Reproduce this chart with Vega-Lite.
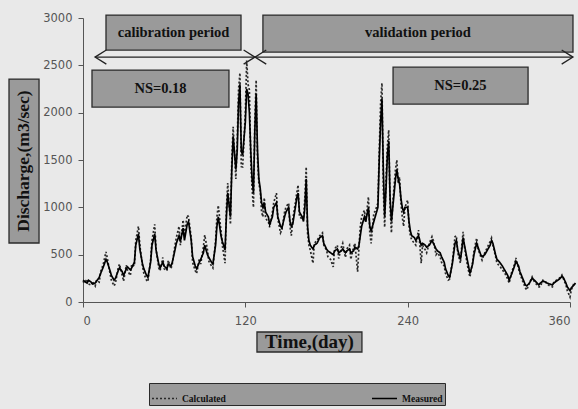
{
  "$schema": "https://vega.github.io/schema/vega-lite/v6.json",
  "width": 487,
  "height": 284,
  "autosize": {"type": "none"},
  "padding": {"left": 83, "top": 18, "right": 8, "bottom": 107},
  "background": "#e9e9e9",
  "config": {
    "view": {"stroke": null},
    "axis": {
      "grid": false,
      "domainColor": "#555",
      "tickColor": "#555",
      "tickSize": 5,
      "labelFont": "DejaVu Sans",
      "labelFontSize": 11.5,
      "labelColor": "#555",
      "title": null,
      "format": "d"
    }
  },
  "datasets": {
    "flow": [
      {"day":0,"Measured":230,"Calculated":220},{"day":1,"Measured":220,"Calculated":200},{"day":3,"Measured":200,"Calculated":240},{"day":4,"Measured":230,"Calculated":190},{"day":6,"Measured":210,"Calculated":180},{"day":7,"Measured":190,"Calculated":220},{"day":9,"Measured":200,"Calculated":170},{"day":10,"Measured":220,"Calculated":230},{"day":12,"Measured":260,"Calculated":210},{"day":13,"Measured":300,"Calculated":320},{"day":15,"Measured":370,"Calculated":400},{"day":17,"Measured":450,"Calculated":530},{"day":18,"Measured":420,"Calculated":460},{"day":20,"Measured":330,"Calculated":300},{"day":21,"Measured":280,"Calculated":230},{"day":23,"Measured":230,"Calculated":170},{"day":24,"Measured":250,"Calculated":200},{"day":26,"Measured":330,"Calculated":360},{"day":27,"Measured":360,"Calculated":400},{"day":29,"Measured":320,"Calculated":280},{"day":30,"Measured":280,"Calculated":220},{"day":32,"Measured":350,"Calculated":390},{"day":33,"Measured":370,"Calculated":330},{"day":35,"Measured":340,"Calculated":280},{"day":36,"Measured":360,"Calculated":400},{"day":38,"Measured":420,"Calculated":380},{"day":39,"Measured":600,"Calculated":650},{"day":41,"Measured":720,"Calculated":800},{"day":42,"Measured":560,"Calculated":600},{"day":44,"Measured":400,"Calculated":380},{"day":45,"Measured":350,"Calculated":300},{"day":47,"Measured":280,"Calculated":230},{"day":48,"Measured":260,"Calculated":215},{"day":50,"Measured":420,"Calculated":450},{"day":51,"Measured":600,"Calculated":650},{"day":53,"Measured":720,"Calculated":820},{"day":54,"Measured":550,"Calculated":560},{"day":56,"Measured":400,"Calculated":360},{"day":57,"Measured":360,"Calculated":330},{"day":59,"Measured":420,"Calculated":470},{"day":60,"Measured":380,"Calculated":350},{"day":62,"Measured":350,"Calculated":330},{"day":63,"Measured":400,"Calculated":440},{"day":65,"Measured":380,"Calculated":350},{"day":66,"Measured":420,"Calculated":400},{"day":68,"Measured":550,"Calculated":600},{"day":69,"Measured":620,"Calculated":680},{"day":71,"Measured":700,"Calculated":800},{"day":72,"Measured":640,"Calculated":600},{"day":74,"Measured":780,"Calculated":866},{"day":75,"Measured":650,"Calculated":700},{"day":77,"Measured":820,"Calculated":918},{"day":78,"Measured":850,"Calculated":900},{"day":80,"Measured":650,"Calculated":680},{"day":81,"Measured":480,"Calculated":420},{"day":83,"Measured":380,"Calculated":330},{"day":84,"Measured":350,"Calculated":300},{"day":86,"Measured":420,"Calculated":460},{"day":87,"Measured":450,"Calculated":400},{"day":89,"Measured":520,"Calculated":580},{"day":90,"Measured":600,"Calculated":707},{"day":92,"Measured":500,"Calculated":550},{"day":93,"Measured":470,"Calculated":430},{"day":95,"Measured":420,"Calculated":380},{"day":96,"Measured":400,"Calculated":360},{"day":98,"Measured":600,"Calculated":650},{"day":99,"Measured":800,"Calculated":900},{"day":100,"Measured":900,"Calculated":1020},{"day":102,"Measured":700,"Calculated":750},{"day":103,"Measured":640,"Calculated":600},{"day":105,"Measured":550,"Calculated":410},{"day":106,"Measured":900,"Calculated":1000},{"day":107,"Measured":1150,"Calculated":1256},{"day":109,"Measured":900,"Calculated":820},{"day":110,"Measured":1400,"Calculated":1500},{"day":111,"Measured":1750,"Calculated":1850},{"day":113,"Measured":1400,"Calculated":1300},{"day":114,"Measured":1600,"Calculated":1700},{"day":115,"Measured":2100,"Calculated":2250},{"day":116,"Measured":2300,"Calculated":2420},{"day":117,"Measured":1600,"Calculated":1430},{"day":118,"Measured":1550,"Calculated":1426},{"day":120,"Measured":1900,"Calculated":2000},{"day":121,"Measured":2250,"Calculated":2550},{"day":122,"Measured":2200,"Calculated":2300},{"day":123,"Measured":2000,"Calculated":2240},{"day":124,"Measured":1600,"Calculated":1500},{"day":125,"Measured":1300,"Calculated":1200},{"day":126,"Measured":1150,"Calculated":1000},{"day":127,"Measured":1800,"Calculated":1900},{"day":128,"Measured":2200,"Calculated":2344},{"day":129,"Measured":1600,"Calculated":1500},{"day":130,"Measured":1300,"Calculated":1250},{"day":131,"Measured":1200,"Calculated":1180},{"day":132,"Measured":1050,"Calculated":950},{"day":133,"Measured":1000,"Calculated":900},{"day":134,"Measured":1050,"Calculated":1100},{"day":135,"Measured":950,"Calculated":880},{"day":137,"Measured":900,"Calculated":850},{"day":138,"Measured":820,"Calculated":790},{"day":140,"Measured":900,"Calculated":950},{"day":141,"Measured":1000,"Calculated":1050},{"day":143,"Measured":1050,"Calculated":1150},{"day":144,"Measured":900,"Calculated":880},{"day":146,"Measured":800,"Calculated":730},{"day":147,"Measured":780,"Calculated":760},{"day":149,"Measured":900,"Calculated":950},{"day":150,"Measured":950,"Calculated":1000},{"day":152,"Measured":1000,"Calculated":1045},{"day":153,"Measured":850,"Calculated":800},{"day":154,"Measured":800,"Calculated":700},{"day":155,"Measured":820,"Calculated":866},{"day":157,"Measured":1000,"Calculated":1050},{"day":158,"Measured":1100,"Calculated":1150},{"day":159,"Measured":1150,"Calculated":1235},{"day":160,"Measured":950,"Calculated":900},{"day":162,"Measured":900,"Calculated":880},{"day":163,"Measured":850,"Calculated":897},{"day":164,"Measured":1000,"Calculated":1100},{"day":165,"Measured":1300,"Calculated":1426},{"day":166,"Measured":800,"Calculated":730},{"day":167,"Measured":650,"Calculated":600},{"day":168,"Measured":600,"Calculated":550},{"day":170,"Measured":560,"Calculated":410},{"day":171,"Measured":600,"Calculated":620},{"day":173,"Measured":620,"Calculated":650},{"day":175,"Measured":680,"Calculated":700},{"day":177,"Measured":700,"Calculated":730},{"day":178,"Measured":620,"Calculated":600},{"day":180,"Measured":560,"Calculated":550},{"day":181,"Measured":540,"Calculated":480},{"day":183,"Measured":520,"Calculated":450},{"day":185,"Measured":500,"Calculated":370},{"day":186,"Measured":540,"Calculated":560},{"day":188,"Measured":560,"Calculated":600},{"day":189,"Measured":520,"Calculated":460},{"day":191,"Measured":540,"Calculated":580},{"day":192,"Measured":560,"Calculated":620},{"day":194,"Measured":520,"Calculated":470},{"day":195,"Measured":540,"Calculated":560},{"day":197,"Measured":560,"Calculated":600},{"day":198,"Measured":520,"Calculated":450},{"day":200,"Measured":540,"Calculated":580},{"day":201,"Measured":580,"Calculated":620},{"day":203,"Measured":560,"Calculated":320},{"day":204,"Measured":600,"Calculated":580},{"day":205,"Measured":700,"Calculated":800},{"day":206,"Measured":800,"Calculated":900},{"day":208,"Measured":900,"Calculated":970},{"day":209,"Measured":850,"Calculated":850},{"day":211,"Measured":1000,"Calculated":1110},{"day":212,"Measured":800,"Calculated":730},{"day":213,"Measured":750,"Calculated":620},{"day":215,"Measured":850,"Calculated":940},{"day":216,"Measured":900,"Calculated":960},{"day":218,"Measured":1000,"Calculated":1045},{"day":219,"Measured":1500,"Calculated":1600},{"day":220,"Measured":1900,"Calculated":2100},{"day":221,"Measured":2150,"Calculated":2313},{"day":222,"Measured":1400,"Calculated":1200},{"day":223,"Measured":900,"Calculated":790},{"day":224,"Measured":1200,"Calculated":1300},{"day":225,"Measured":1550,"Calculated":1650},{"day":226,"Measured":1700,"Calculated":1816},{"day":227,"Measured":1100,"Calculated":1000},{"day":228,"Measured":850,"Calculated":730},{"day":229,"Measured":1000,"Calculated":1050},{"day":231,"Measured":1300,"Calculated":1400},{"day":232,"Measured":1400,"Calculated":1500},{"day":233,"Measured":1300,"Calculated":1250},{"day":234,"Measured":1250,"Calculated":1320},{"day":235,"Measured":1100,"Calculated":1050},{"day":236,"Measured":1000,"Calculated":900},{"day":237,"Measured":950,"Calculated":800},{"day":238,"Measured":1000,"Calculated":1000},{"day":240,"Measured":1000,"Calculated":1077},{"day":241,"Measured":850,"Calculated":800},{"day":242,"Measured":750,"Calculated":700},{"day":243,"Measured":700,"Calculated":655},{"day":245,"Measured":680,"Calculated":620},{"day":246,"Measured":650,"Calculated":600},{"day":248,"Measured":700,"Calculated":760},{"day":249,"Measured":650,"Calculated":600},{"day":250,"Measured":600,"Calculated":410},{"day":251,"Measured":620,"Calculated":600},{"day":253,"Measured":600,"Calculated":550},{"day":254,"Measured":580,"Calculated":520},{"day":256,"Measured":600,"Calculated":620},{"day":258,"Measured":650,"Calculated":690},{"day":259,"Measured":620,"Calculated":650},{"day":261,"Measured":560,"Calculated":500},{"day":262,"Measured":540,"Calculated":520},{"day":264,"Measured":520,"Calculated":480},{"day":265,"Measured":480,"Calculated":420},{"day":267,"Measured":420,"Calculated":380},{"day":268,"Measured":350,"Calculated":300},{"day":270,"Measured":280,"Calculated":232},{"day":271,"Measured":260,"Calculated":240},{"day":273,"Measured":400,"Calculated":420},{"day":275,"Measured":620,"Calculated":690},{"day":276,"Measured":650,"Calculated":700},{"day":277,"Measured":550,"Calculated":520},{"day":279,"Measured":450,"Calculated":410},{"day":280,"Measured":550,"Calculated":600},{"day":281,"Measured":680,"Calculated":740},{"day":282,"Measured":600,"Calculated":580},{"day":284,"Measured":450,"Calculated":400},{"day":285,"Measured":380,"Calculated":330},{"day":286,"Measured":300,"Calculated":264},{"day":288,"Measured":400,"Calculated":420},{"day":289,"Measured":500,"Calculated":540},{"day":291,"Measured":620,"Calculated":675},{"day":292,"Measured":580,"Calculated":560},{"day":294,"Measured":500,"Calculated":480},{"day":295,"Measured":480,"Calculated":443},{"day":297,"Measured":500,"Calculated":520},{"day":299,"Measured":550,"Calculated":580},{"day":301,"Measured":600,"Calculated":640},{"day":302,"Measured":650,"Calculated":675},{"day":303,"Measured":620,"Calculated":600},{"day":305,"Measured":500,"Calculated":480},{"day":306,"Measured":450,"Calculated":410},{"day":308,"Measured":420,"Calculated":380},{"day":310,"Measured":380,"Calculated":340},{"day":312,"Measured":330,"Calculated":300},{"day":314,"Measured":280,"Calculated":240},{"day":315,"Measured":230,"Calculated":200},{"day":317,"Measured":300,"Calculated":320},{"day":319,"Measured":380,"Calculated":400},{"day":320,"Measured":430,"Calculated":465},{"day":322,"Measured":380,"Calculated":350},{"day":323,"Measured":320,"Calculated":300},{"day":325,"Measured":250,"Calculated":220},{"day":327,"Measured":180,"Calculated":150},{"day":328,"Measured":170,"Calculated":127},{"day":330,"Measured":200,"Calculated":200},{"day":332,"Measured":250,"Calculated":264},{"day":333,"Measured":240,"Calculated":230},{"day":335,"Measured":210,"Calculated":190},{"day":337,"Measured":180,"Calculated":160},{"day":338,"Measured":200,"Calculated":160},{"day":340,"Measured":220,"Calculated":230},{"day":342,"Measured":210,"Calculated":211},{"day":343,"Measured":200,"Calculated":190},{"day":345,"Measured":190,"Calculated":170},{"day":347,"Measured":180,"Calculated":160},{"day":348,"Measured":200,"Calculated":210},{"day":350,"Measured":220,"Calculated":230},{"day":352,"Measured":240,"Calculated":250},{"day":354,"Measured":270,"Calculated":285},{"day":355,"Measured":260,"Calculated":250},{"day":357,"Measured":200,"Calculated":180},{"day":358,"Measured":160,"Calculated":120},{"day":360,"Measured":120,"Calculated":53},{"day":361,"Measured":150,"Calculated":130},{"day":363,"Measured":180,"Calculated":200},{"day":364,"Measured":200,"Calculated":190}
    ],
    "boxes": [
      {"name":"calibration","x1":17.0,"x2":116.8,"y1":2661,"y2":3031},
      {"name":"validation","x1":133.0,"x2":362.2,"y1":2640,"y2":3031},
      {"name":"ns1","x1":6.65,"x2":107.9,"y1":2059,"y2":2450},
      {"name":"ns2","x1":229.2,"x2":329.0,"y1":2091,"y2":2481},
      {"name":"xtitle","x1":128.6,"x2":206.2,"y1":-528,"y2":-317},
      {"name":"ytitle","x1":-54.7,"x2":-32.5,"y1":623,"y2":2355}
    ]
  },
  "layer": [
    {
      "data": {"name": "boxes"},
      "mark": {"type": "rect", "fill": "#9a9a9a", "stroke": "#2a2a2a", "strokeWidth": 1.3, "clip": false},
      "encoding": {
        "x": {"field": "x1", "type": "quantitative", "scale": {"domain": [0, 360], "nice": false, "zero": false},
              "axis": {"values": [0, 120, 240, 360], "labelPadding": 8}},
        "x2": {"field": "x2"},
        "y": {"field": "y1", "type": "quantitative", "scale": {"domain": [0, 3000], "nice": false},
              "axis": {"values": [0, 500, 1000, 1500, 2000, 2500, 3000], "labelPadding": 6}},
        "y2": {"field": "y2"}
      }
    },
    {
      "data": {"values": [{"x1": 8.9, "x2": 362.2, "y": 2587}]},
      "mark": {"type": "rule", "stroke": "#222", "strokeWidth": 1.3, "clip": false},
      "encoding": {
        "x": {"field": "x1", "type": "quantitative"},
        "x2": {"field": "x2"},
        "y": {"field": "y", "type": "quantitative"}
      }
    },
    {
      "data": {"values": [{"x": 8.9, "y": 2587}, {"x": 127.1, "y": 2587}]},
      "mark": {"type": "point", "shape": "M 1.6 -1 L 0 0 L 1.6 1", "size": 200, "filled": false, "stroke": "#222", "strokeWidth": 1.3, "opacity": 1, "clip": false},
      "encoding": {
        "x": {"field": "x", "type": "quantitative"},
        "y": {"field": "y", "type": "quantitative"}
      }
    },
    {
      "data": {"values": [{"x": 127.1, "y": 2587}, {"x": 362.2, "y": 2587}]},
      "mark": {"type": "point", "shape": "M -1.6 -1 L 0 0 L -1.6 1", "size": 200, "filled": false, "stroke": "#222", "strokeWidth": 1.3, "opacity": 1, "clip": false},
      "encoding": {
        "x": {"field": "x", "type": "quantitative"},
        "y": {"field": "y", "type": "quantitative"}
      }
    },
    {
      "data": {"values": [
        {"x": 66.9, "y": 2846, "label": "calibration period"},
        {"x": 247.6, "y": 2840, "label": "validation period"},
        {"x": 57.3, "y": 2254, "label": "NS=0.18"},
        {"x": 279.0, "y": 2286, "label": "NS=0.25"}
      ]},
      "mark": {"type": "text", "font": "Liberation Serif", "fontWeight": "bold", "fontSize": 14.5, "color": "#111", "baseline": "middle", "align": "center", "clip": false},
      "encoding": {
        "x": {"field": "x", "type": "quantitative"},
        "y": {"field": "y", "type": "quantitative"},
        "text": {"field": "label"}
      }
    },
    {
      "data": {"values": [{"x": 167.4, "y": -422, "label": "Time,(day)"}]},
      "mark": {"type": "text", "font": "Liberation Serif", "fontWeight": "bold", "fontSize": 19, "color": "#111", "baseline": "middle", "align": "center", "clip": false},
      "encoding": {
        "x": {"field": "x", "type": "quantitative"},
        "y": {"field": "y", "type": "quantitative"},
        "text": {"field": "label"}
      }
    },
    {
      "data": {"values": [{"x": -43.6, "y": 1489, "label": "Discharge,(m3/sec)"}]},
      "mark": {"type": "text", "font": "Liberation Serif", "fontWeight": "bold", "fontSize": 17.5, "angle": 270, "color": "#111", "baseline": "middle", "align": "center", "clip": false},
      "encoding": {
        "x": {"field": "x", "type": "quantitative"},
        "y": {"field": "y", "type": "quantitative"},
        "text": {"field": "label"}
      }
    },
    {
      "data": {"name": "flow"},
      "transform": [{"fold": ["Calculated", "Measured"], "as": ["series", "q"]}],
      "mark": {"type": "line", "strokeWidth": 1.7, "interpolate": "linear"},
      "encoding": {
        "x": {"field": "day", "type": "quantitative"},
        "y": {"field": "q", "type": "quantitative"},
        "color": {"field": "series", "type": "nominal",
                  "scale": {"domain": ["Calculated", "Measured"], "range": ["#2a2a2a", "#000000"]},
                  "legend": {"title": null, "orient": "none", "legendX": 66, "legendY": 365, "direction": "horizontal",
                             "fillColor": "#9a9a9a", "strokeColor": "#2a2a2a", "padding": 2, "cornerRadius": 0,
                             "symbolType": "stroke", "symbolSize": 625, "symbolStrokeWidth": 1.3,
                             "labelFont": "Liberation Serif", "labelFontWeight": "bold", "labelFontSize": 9.5, "labelColor": "#111",
                             "columnPadding": 143, "labelOffset": 4}},
        "strokeDash": {"field": "series", "type": "nominal",
                       "scale": {"domain": ["Calculated", "Measured"], "range": [[2, 2], [1, 0]]},
                       "legend": {"title": null, "orient": "none", "legendX": 66, "legendY": 365, "direction": "horizontal",
                             "fillColor": "#9a9a9a", "strokeColor": "#2a2a2a", "padding": 2, "cornerRadius": 0,
                             "symbolType": "stroke", "symbolSize": 625, "symbolStrokeWidth": 1.3,
                             "labelFont": "Liberation Serif", "labelFontWeight": "bold", "labelFontSize": 9.5, "labelColor": "#111",
                             "columnPadding": 143, "labelOffset": 4}}
      }
    }
  ]
}
